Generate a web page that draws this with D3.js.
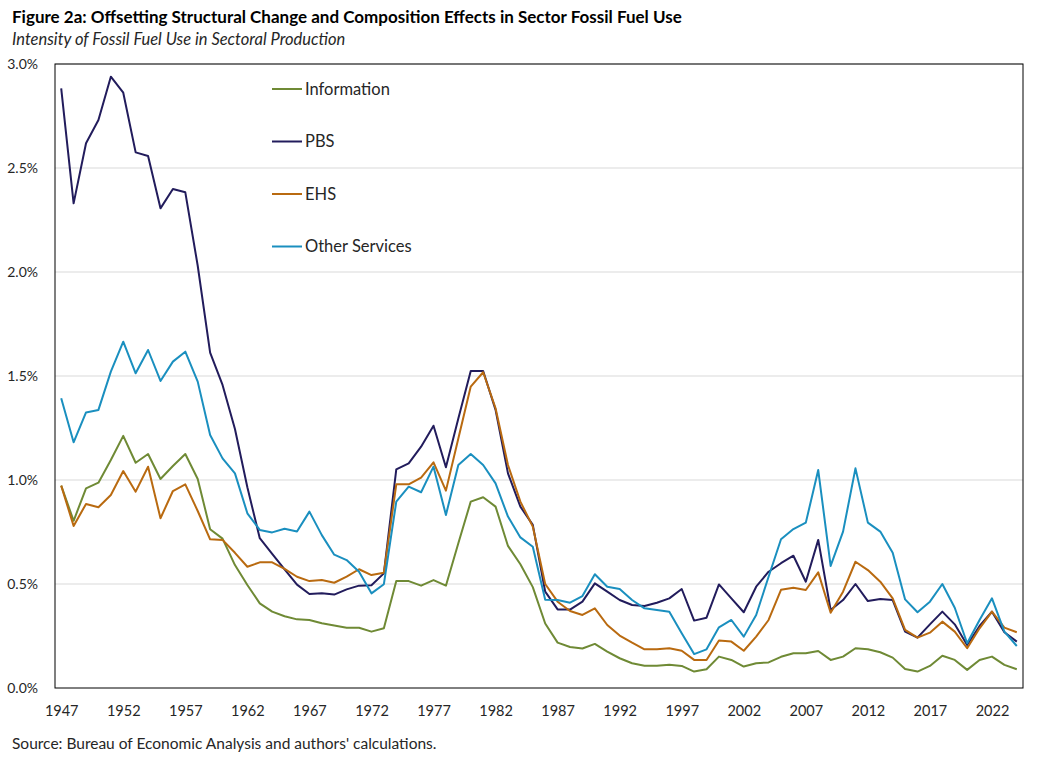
<!DOCTYPE html>
<html lang="en">
<head>
	<meta charset="utf-8">
	<title>Figure 2a - Fossil Fuel Use</title>
	<script src="https://d3js.org/d3.v7.min.js"></script>
	<style>
		body { margin: 0; background: #fff; }
		text { font-family: Lato, "Open Sans", sans-serif; fill: #262626; }
	</style>
</head>
<body>
	<div id="chart"></div>
	<script>
		// years on the category axis
		const years = d3.range(1947, 2025);
		const tickYears = d3.range(1947, 2025, 5);
		const yTicks = [0, 0.5, 1.0, 1.5, 2.0, 2.5, 3.0];

		// series values, percent
		const information = [0.973, 0.804, 0.960, 0.987, 1.096, 1.212, 1.083, 1.125, 1.005, 1.067,
			1.125, 1.005, 0.763, 0.718, 0.591, 0.495, 0.407, 0.367, 0.345, 0.330,
			0.327, 0.311, 0.300, 0.290, 0.290, 0.271, 0.287, 0.514, 0.514, 0.492,
			0.519, 0.492, 0.696, 0.896, 0.917, 0.872, 0.683, 0.595, 0.485, 0.310,
			0.218, 0.197, 0.190, 0.212, 0.175, 0.143, 0.119, 0.107, 0.107, 0.112,
			0.106, 0.079, 0.090, 0.151, 0.135, 0.103, 0.119, 0.123, 0.150, 0.167,
			0.167, 0.178, 0.135, 0.151, 0.191, 0.186, 0.172, 0.146, 0.091, 0.079,
			0.106, 0.155, 0.135, 0.087, 0.135, 0.151, 0.111, 0.090];
		const pbs = [2.883, 2.330, 2.619, 2.731, 2.939, 2.862, 2.575, 2.558, 2.306, 2.399,
			2.383, 2.030, 1.612, 1.457, 1.245, 0.965, 0.720, 0.645, 0.570, 0.497,
			0.452, 0.455, 0.449, 0.474, 0.492, 0.494, 0.551, 1.051, 1.080, 1.160,
			1.261, 1.061, 1.296, 1.524, 1.524, 1.337, 1.032, 0.872, 0.784, 0.463,
			0.378, 0.377, 0.415, 0.503, 0.463, 0.423, 0.399, 0.394, 0.410, 0.431,
			0.476, 0.324, 0.338, 0.498, 0.431, 0.364, 0.487, 0.559, 0.600, 0.636,
			0.511, 0.712, 0.375, 0.423, 0.500, 0.418, 0.428, 0.423, 0.271, 0.242,
			0.306, 0.367, 0.306, 0.207, 0.298, 0.367, 0.268, 0.223];
		const ehs = [0.973, 0.779, 0.885, 0.869, 0.928, 1.043, 0.944, 1.064, 0.816, 0.947,
			0.979, 0.851, 0.715, 0.712, 0.650, 0.583, 0.604, 0.604, 0.573, 0.535,
			0.514, 0.519, 0.506, 0.535, 0.571, 0.543, 0.554, 0.979, 0.979, 1.011,
			1.085, 0.949, 1.200, 1.449, 1.518, 1.345, 1.072, 0.896, 0.776, 0.500,
			0.415, 0.370, 0.351, 0.383, 0.303, 0.252, 0.218, 0.186, 0.186, 0.191,
			0.179, 0.135, 0.135, 0.228, 0.223, 0.179, 0.247, 0.327, 0.472, 0.482,
			0.471, 0.556, 0.362, 0.463, 0.607, 0.567, 0.511, 0.431, 0.279, 0.242,
			0.266, 0.319, 0.271, 0.191, 0.287, 0.367, 0.290, 0.268];
		const otherServices = [1.393, 1.181, 1.325, 1.337, 1.521, 1.665, 1.513, 1.625, 1.476, 1.569,
			1.617, 1.473, 1.216, 1.104, 1.032, 0.840, 0.760, 0.748, 0.766, 0.752,
			0.848, 0.735, 0.641, 0.615, 0.559, 0.455, 0.499, 0.896, 0.968, 0.941,
			1.064, 0.832, 1.072, 1.125, 1.072, 0.984, 0.824, 0.724, 0.679, 0.424,
			0.423, 0.410, 0.442, 0.547, 0.487, 0.476, 0.423, 0.383, 0.375, 0.367,
			0.263, 0.163, 0.186, 0.292, 0.327, 0.247, 0.351, 0.535, 0.715, 0.764,
			0.795, 1.048, 0.587, 0.752, 1.056, 0.795, 0.752, 0.650, 0.426, 0.364,
			0.415, 0.500, 0.386, 0.215, 0.327, 0.431, 0.271, 0.202];

		const seriesNames = ["Information", "PBS", "EHS", "Other Services"];
		const seriesColors = ["#6f8a35", "#221c5c", "#b96a10", "#1a8fbf"];
		const seriesValues = [information, pbs, ehs, otherServices];

		const width = 1044;
		const height = 758;
		const plot = { left: 55, right: 1023, top: 64, bottom: 688 };

		var svg = d3.select("#chart")
					.append("svg")
					.attr("width", width)
					.attr("height", height);

		let xscale = d3.scalePoint()
						.domain(years)
						.range([plot.left, plot.right])
						.padding(0.5);
		let yscale = d3.scaleLinear()
						.domain([0, 3])
						.range([plot.bottom, plot.top]);

		// titles
		svg.append("text")
			.attr("x", 12).attr("y", 23)
			.style("font-size", "17px")
			.style("font-weight", "bold")
			.style("fill", "#000")
			.text("Figure 2a: Offsetting Structural Change and Composition Effects in Sector Fossil Fuel Use");
		svg.append("text")
			.attr("x", 12).attr("y", 45)
			.style("font-size", "16.5px")
			.style("font-style", "italic")
			.text("Intensity of Fossil Fuel Use in Sectoral Production");

		// gridlines
		svg.append("g")
			.selectAll("line")
			.data(yTicks.slice(1))
			.enter()
			.append("line")
			.attr("x1", plot.left).attr("x2", plot.right)
			.attr("y1", d => yscale(d)).attr("y2", d => yscale(d))
			.attr("stroke", "#d9d9d9")
			.attr("stroke-width", 1);

		// y axis labels
		let y_axis = d3.axisLeft(yscale)
						.tickValues(yTicks)
						.tickFormat(d => d.toFixed(1) + "%")
						.tickSize(0)
						.tickPadding(17);
		let yg = svg.append("g")
					.attr("transform", "translate(" + plot.left + ",0)")
					.call(y_axis);
		yg.select(".domain").remove();
		yg.selectAll("text")
			.style("font-size", "14px")
			.style("font-family", "Lato, sans-serif")
			.style("fill", "#262626");

		// x axis labels
		let x_axis = d3.axisBottom(xscale)
						.tickValues(tickYears)
						.tickSize(0)
						.tickPadding(18);
		let xg = svg.append("g")
					.attr("transform", "translate(0," + plot.bottom + ")")
					.call(x_axis);
		xg.select(".domain").remove();
		xg.selectAll("text")
			.style("font-size", "14.5px")
			.style("font-family", "Lato, sans-serif")
			.style("fill", "#262626");

		// series lines
		let line = d3.line()
					.x((d, i) => xscale(years[i]))
					.y(d => yscale(d));
		svg.append("g")
			.selectAll("path")
			.data(seriesValues)
			.enter()
			.append("path")
			.attr("d", d => line(d))
			.attr("fill", "none")
			.attr("stroke", (d, i) => seriesColors[i])
			.attr("stroke-width", 2)
			.attr("stroke-linejoin", "round");

		// plot frame
		svg.append("rect")
			.attr("x", plot.left).attr("y", plot.top)
			.attr("width", plot.right - plot.left)
			.attr("height", plot.bottom - plot.top)
			.attr("fill", "none")
			.attr("stroke", "#000")
			.attr("stroke-width", 1);

		// legend
		let legend = svg.append("g")
						.selectAll("g")
						.data(seriesNames)
						.enter()
						.append("g")
						.attr("transform", (d, i) => "translate(272," + (89 + i * 52.5) + ")");
		legend.append("line")
			.attr("x1", 0).attr("x2", 30)
			.attr("stroke", (d, i) => seriesColors[i])
			.attr("stroke-width", 2);
		legend.append("text")
			.attr("x", 33).attr("dy", "0.35em")
			.style("font-size", "16.5px")
			.text(d => d);

		// source note
		svg.append("text")
			.attr("x", 12).attr("y", 749)
			.style("font-size", "15.5px")
			.text("Source: Bureau of Economic Analysis and authors' calculations.");
	</script>
</body>
</html>
